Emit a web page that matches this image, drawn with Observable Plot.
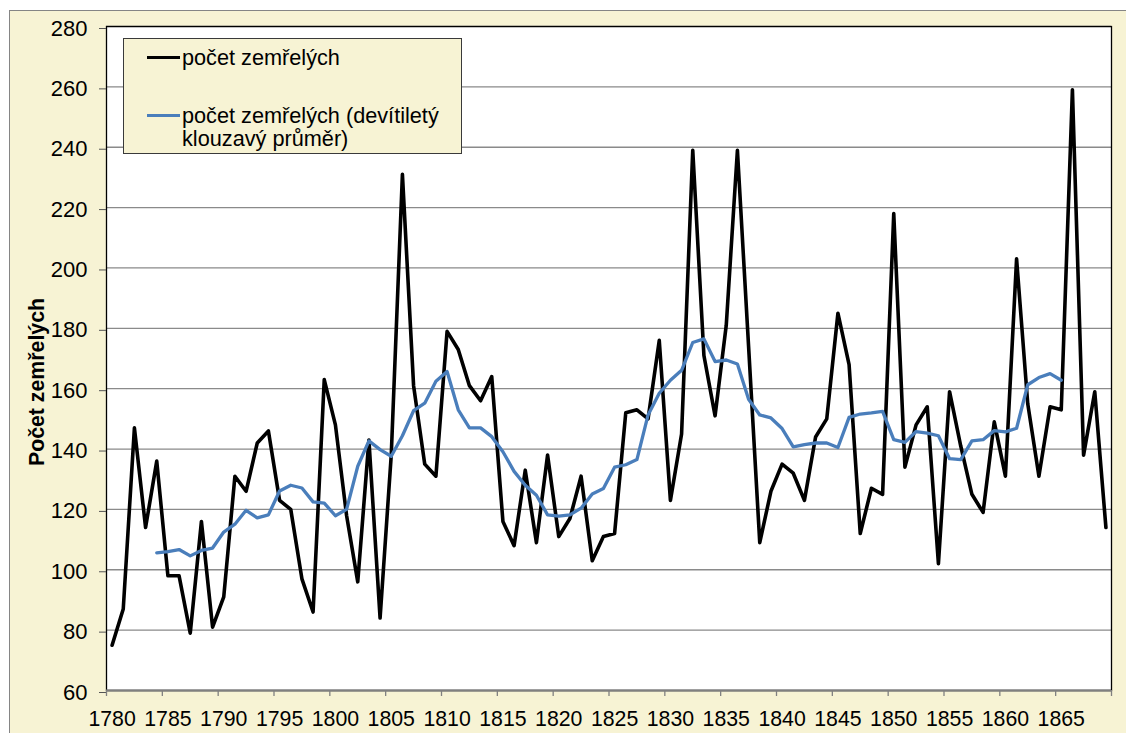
<!DOCTYPE html>
<html><head><meta charset="utf-8">
<script src="https://cdn.jsdelivr.net/npm/d3@7"></script>
<script src="https://cdn.jsdelivr.net/npm/@observablehq/plot@0.6"></script>
<style>
html,body{margin:0;padding:0;background:#fff;}
body{width:1126px;height:733px;overflow:hidden;position:relative;font-family:"Liberation Sans",Arial,sans-serif;}
#panel{position:absolute;left:9px;top:10px;width:1200px;height:800px;background:#f7f3d4;border-left:1.5px solid #858585;border-top:1.5px solid #858585;}
#chart{position:absolute;left:0;top:0;}
#legend{position:absolute;left:123px;top:38px;width:339px;height:116px;background:#f7f3d4;border:1px solid #3a3a3a;box-sizing:border-box;}
.item{position:absolute;left:0;}
.swatch{position:absolute;left:23px;width:33px;height:3px;}
.ltext{position:absolute;left:58px;width:275px;font-size:21.7px;line-height:23.4px;color:#000;white-space:normal;}
#ylabel{position:absolute;width:300px;text-align:center;font-weight:bold;font-size:21.3px;line-height:24px;color:#000;transform:rotate(-90deg);transform-origin:center center;}
</style>
</head><body>
<div id="panel"></div>
<div id="chart"></div>
<script>
// Categories (years)
const years = [1780,1781,1782,1783,1784,1785,1786,1787,1788,1789,
1790,1791,1792,1793,1794,1795,1796,1797,1798,1799,
1800,1801,1802,1803,1804,1805,1806,1807,1808,1809,
1810,1811,1812,1813,1814,1815,1816,1817,1818,1819,
1820,1821,1822,1823,1824,1825,1826,1827,1828,1829,
1830,1831,1832,1833,1834,1835,1836,1837,1838,1839,
1840,1841,1842,1843,1844,1845,1846,1847,1848,1849,
1850,1851,1852,1853,1854,1855,1856,1857,1858,1859,
1860,1861,1862,1863,1864,1865,1866,1867,1868,1869];

// počet zemřelých
const deaths = [75,87,147,114,136,98,98,79,116,81,
91,131,126,142,146,123,120,97,86,163,
148,118,96,143,84,138,231,161,135,131,
179,173,161,156,164,116,108,133,109,138,
111,117,131,103,111,112,152,153,150,176,
123,145,239,171,151,181,239,174,109,126,
135,132,123,144,150,185,168,112,127,125,
218,134,148,154,102,159,141,125,119,149,
131,203,155,131,154,153,259,138,159,114];

// devítiletý klouzavý průměr (1784–1865)
const maYears = [1784,1785,1786,1787,1788,1789,
1790,1791,1792,1793,1794,1795,1796,1797,1798,1799,
1800,1801,1802,1803,1804,1805,1806,1807,1808,1809,
1810,1811,1812,1813,1814,1815,1816,1817,1818,1819,
1820,1821,1822,1823,1824,1825,1826,1827,1828,1829,
1830,1831,1832,1833,1834,1835,1836,1837,1838,1839,
1840,1841,1842,1843,1844,1845,1846,1847,1848,1849,
1850,1851,1852,1853,1854,1855,1856,1857,1858,1859,
1860,1861,1862,1863,1864,1865];
const movingAvg = [105.6,106,106.7,104.6,106.4,107.2,
112.5,115.1,119.7,117.2,118.2,126.1,128,127.1,122.5,122.1,
117.9,120,134.3,142.7,139.8,137.6,144.4,152.7,155.2,162.5,
165.7,153,147,147,144.1,139.1,132.6,128,124.7,118.2,
117.8,118.2,120.4,125.1,126.9,134,134.8,136.5,151.3,158.5,
162.8,166.1,175.3,176.5,169,169.5,168.2,156.5,151.3,150.3,
146.8,140.7,141.5,142,142,140.5,150.5,151.6,152,152.5,
143.1,142.2,145.8,145.3,144.4,136.8,136.5,142.7,143.1,146.1,
145.7,146.9,161.3,163.7,165,162.8];

// Tick labels
const xLabelYears = [1780,1785,1790,1795,1800,1805,1810,1815,1820,1825,1830,1835,1840,1845,1850,1855,1860,1865];
const yTicks = [60,80,100,120,140,160,180,200,220,240,260,280];
const seriesNames = ["počet zemřelých", "počet zemřelých (devítiletý klouzavý průměr)"];
const seriesColors = ["#000000", "#4a7ebb"];
const yTitle = "Počet zemřelých";

const deathRows = years.map((year, i) => ({year, value: deaths[i]}));
const maRows = maYears.map((year, i) => ({year, value: movingAvg[i]}));
// category boundaries (every 5 categories)
const xBounds = xLabelYears.map(y => y - 0.5).concat([years[years.length - 1] + 0.5]);

const chart = Plot.plot({
  width: 1126,
  height: 733,
  marginLeft: 106,
  marginRight: 15,
  marginTop: 26,
  marginBottom: 43,
  style: {background: "transparent", fontFamily: "'Liberation Sans', Arial, sans-serif", color: "#000"},
  x: {domain: [years[0] - 0.5, years[years.length - 1] + 0.5], axis: null},
  y: {domain: [60, 280], axis: null},
  marks: [
    Plot.frame({fill: "white", stroke: "none"}),
    Plot.gridY(yTicks, {stroke: "#8a8a8a", strokeOpacity: 1, strokeWidth: 1.3}),
    Plot.frame({stroke: "#000", strokeWidth: 1.3}),
    Plot.ruleY([60], {stroke: "#808080", strokeWidth: 2}),
    Plot.axisY(yTicks, {anchor: "left", tickSize: 7, tickPadding: 12, fontSize: 22, label: null, dy: 2, stroke: "#555"}),
    Plot.axisX(xBounds, {anchor: "bottom", tickSize: 6, tickFormat: () => "", label: null, stroke: "#808080", strokeWidth: 1.3}),
    Plot.axisX(xLabelYears, {anchor: "bottom", tickSize: 0, tickPadding: 20, fontSize: 21.3, label: null, tickFormat: d => String(d)}),
    Plot.line(deathRows, {x: "year", y: "value", stroke: seriesColors[0], strokeWidth: 3.6}),
    Plot.line(maRows, {x: "year", y: "value", stroke: seriesColors[1], strokeWidth: 3.3})
  ]
});
document.getElementById("chart").appendChild(chart);

// Legend (overlay, inside plot area)
const legend = document.createElement("div");
legend.id = "legend";
const itemTops = [6.8, 64.8];
seriesNames.forEach((name, i) => {
  const it = document.createElement("div");
  it.className = "item";
  it.style.top = itemTops[i] + "px";
  const sw = document.createElement("div");
  sw.className = "swatch";
  sw.style.background = seriesColors[i];
  sw.style.top = "10.7px";
  const tx = document.createElement("div");
  tx.className = "ltext";
  tx.textContent = name;
  it.appendChild(sw);
  it.appendChild(tx);
  legend.appendChild(it);
});
document.body.appendChild(legend);

// Y axis title
const yl = document.createElement("div");
yl.id = "ylabel";
yl.textContent = yTitle;
yl.style.left = (37 - 150) + "px";
yl.style.top = (382 - 12) + "px";
document.body.appendChild(yl);
</script>
</body></html>
